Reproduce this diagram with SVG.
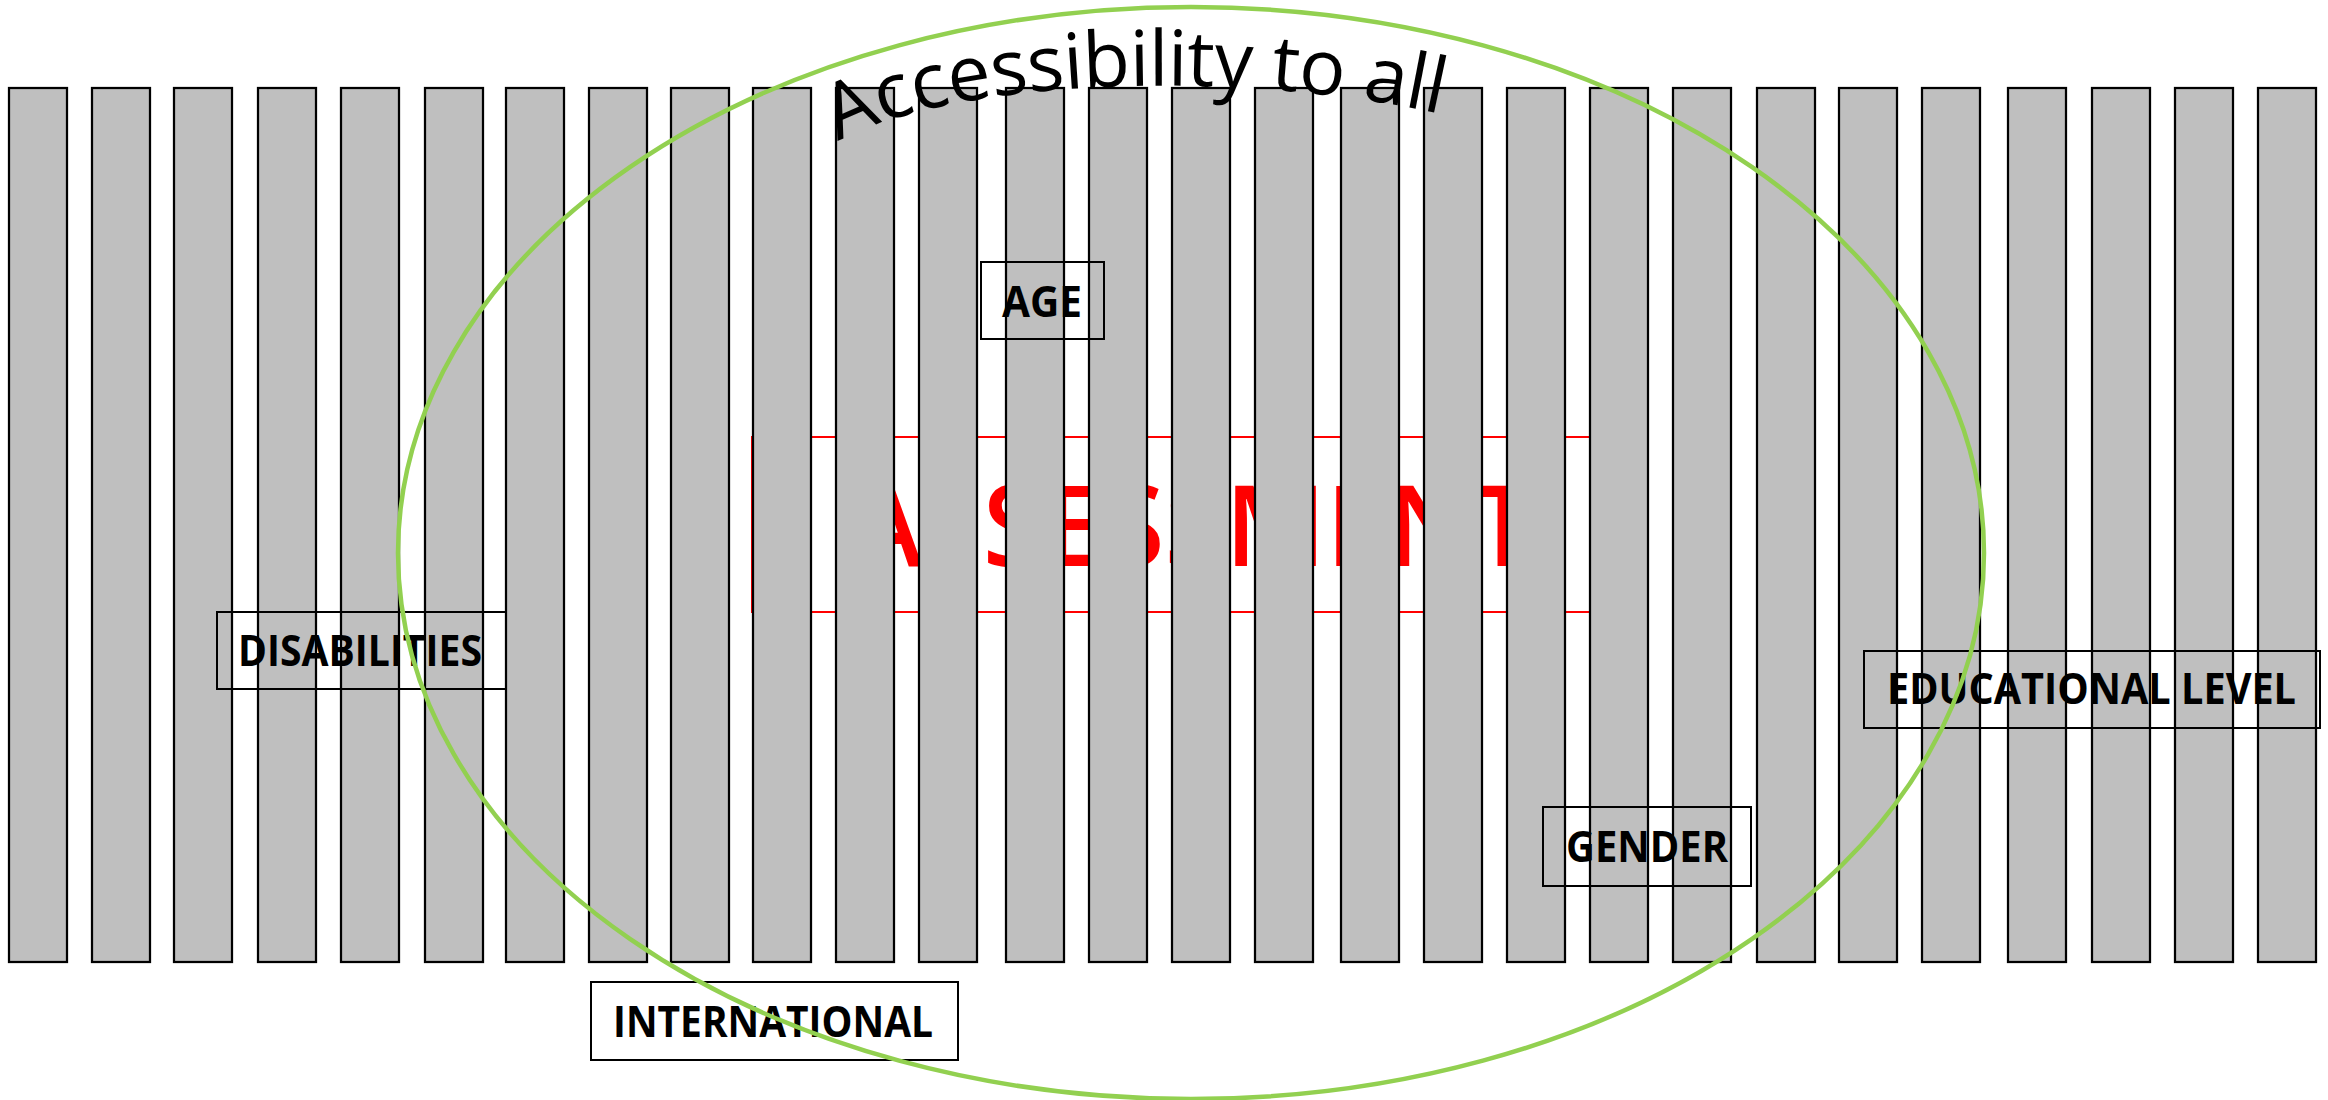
<svg xmlns="http://www.w3.org/2000/svg" xmlns:xlink="http://www.w3.org/1999/xlink" width="2328" height="1100" viewBox="0 0 2328 1100">
  <style>
    .bar { fill: #BFBFBF; stroke: #000; stroke-width: 2.25; }
    .lbl-box { fill: none; stroke: #000; stroke-width: 2; }
    .lbl { font-family: "Open Sans", "Liberation Sans", sans-serif; font-weight: 700; font-size: 43px; fill: #000; }
    .title { font-family: "Open Sans", "Liberation Sans", sans-serif; font-size: 77px; fill: #000; }
    .big { font-family: "Open Sans", "Liberation Sans", sans-serif; font-weight: 600; font-size: 112px; fill: #FF0000; }
  </style>
  <defs>
    <path id="arc" d="M838,142 C960,75 1250,70 1445,115"/>
  </defs>
  <rect width="2328" height="1100" fill="#FFFFFF"/>

  <g id="assessment">
    <rect x="752" y="437" width="840" height="175" fill="none" stroke="#FF0000" stroke-width="2"/>
    <text class="big" x="850" y="566" textLength="685" lengthAdjust="spacingAndGlyphs">ASSESSMENT</text>
  </g>

  <g id="bars">
    <rect class="bar" x="9" y="88" width="58" height="874"/>
    <rect class="bar" x="92" y="88" width="58" height="874"/>
    <rect class="bar" x="174" y="88" width="58" height="874"/>
    <rect class="bar" x="258" y="88" width="58" height="874"/>
    <rect class="bar" x="341" y="88" width="58" height="874"/>
    <rect class="bar" x="425" y="88" width="58" height="874"/>
    <rect class="bar" x="506" y="88" width="58" height="874"/>
    <rect class="bar" x="589" y="88" width="58" height="874"/>
    <rect class="bar" x="671" y="88" width="58" height="874"/>
    <rect class="bar" x="753" y="88" width="58" height="874"/>
    <rect class="bar" x="836" y="88" width="58" height="874"/>
    <rect class="bar" x="919" y="88" width="58" height="874"/>
    <rect class="bar" x="1006" y="88" width="58" height="874"/>
    <rect class="bar" x="1089" y="88" width="58" height="874"/>
    <rect class="bar" x="1172" y="88" width="58" height="874"/>
    <rect class="bar" x="1255" y="88" width="58" height="874"/>
    <rect class="bar" x="1341" y="88" width="58" height="874"/>
    <rect class="bar" x="1424" y="88" width="58" height="874"/>
    <rect class="bar" x="1507" y="88" width="58" height="874"/>
    <rect class="bar" x="1590" y="88" width="58" height="874"/>
    <rect class="bar" x="1673" y="88" width="58" height="874"/>
    <rect class="bar" x="1757" y="88" width="58" height="874"/>
    <rect class="bar" x="1839" y="88" width="58" height="874"/>
    <rect class="bar" x="1922" y="88" width="58" height="874"/>
    <rect class="bar" x="2008" y="88" width="58" height="874"/>
    <rect class="bar" x="2092" y="88" width="58" height="874"/>
    <rect class="bar" x="2175" y="88" width="58" height="874"/>
    <rect class="bar" x="2258" y="88" width="58" height="874"/>
  </g>

  <g id="label-age">
    <rect class="lbl-box" x="981" y="262" width="123" height="77"/>
    <text class="lbl" x="1002" y="317" textLength="80" lengthAdjust="spacingAndGlyphs">AGE</text>
  </g>
  <g id="label-disabilities">
    <rect class="lbl-box" x="217" y="612" width="289" height="77"/>
    <text class="lbl" x="238" y="666" textLength="244" lengthAdjust="spacingAndGlyphs">DISABILITIES</text>
  </g>
  <g id="label-international">
    <rect class="lbl-box" x="591" y="982" width="367" height="78"/>
    <text class="lbl" x="613" y="1037" textLength="320" lengthAdjust="spacingAndGlyphs">INTERNATIONAL</text>
  </g>
  <g id="label-gender">
    <rect class="lbl-box" x="1543" y="807" width="208" height="79"/>
    <text class="lbl" x="1566" y="862" textLength="162" lengthAdjust="spacingAndGlyphs">GENDER</text>
  </g>
  <g id="label-educational">
    <rect class="lbl-box" x="1864" y="651" width="456" height="77"/>
    <text class="lbl" x="1887" y="704" textLength="409" lengthAdjust="spacingAndGlyphs">EDUCATIONAL LEVEL</text>
  </g>

  <g id="title">
    <text class="title"><textPath xlink:href="#arc" href="#arc" textLength="612" lengthAdjust="spacing">Accessibility to all</textPath></text>
  </g>

  <g id="ellipse">
    <ellipse cx="1191" cy="553" rx="793" ry="546" fill="none" stroke="#92D050" stroke-width="4.5"/>
  </g>
</svg>
